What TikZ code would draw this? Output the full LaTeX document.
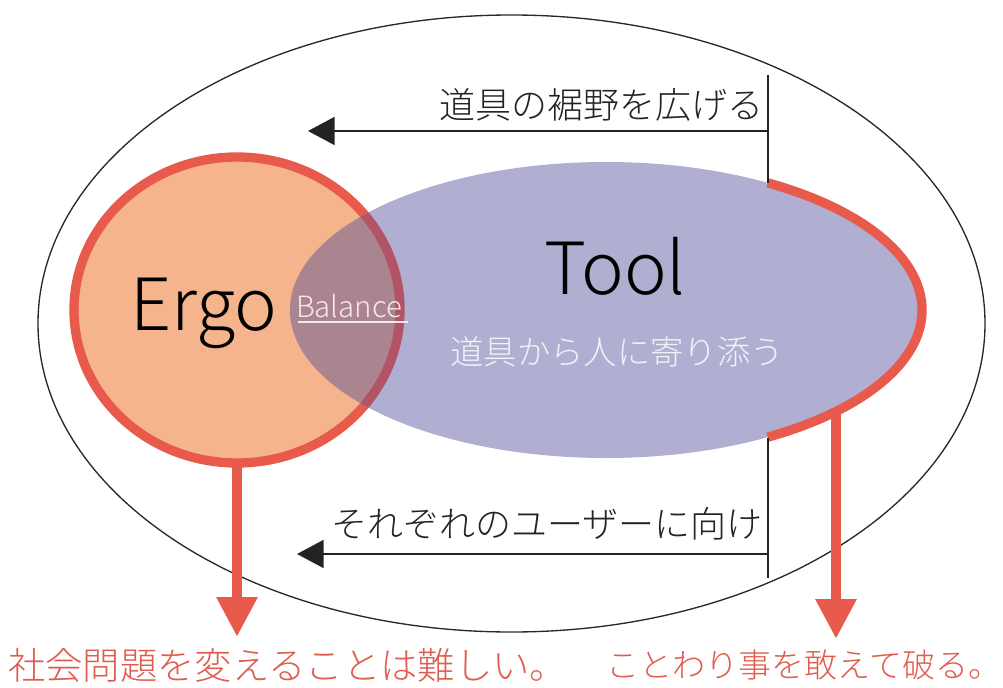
\documentclass[tikz,border=0pt]{standalone}
\usepackage{fontspec}
\setmainfont{Noto Sans CJK JP Light}
\usetikzlibrary{arrows.meta}
\definecolor{redline}{RGB}{232,90,76}
\definecolor{redtext}{RGB}{224,92,78}
\definecolor{ergofill}{RGB}{246,180,140}
\definecolor{toolfill}{RGB}{176,174,209}
\definecolor{overlapfill}{RGB}{170,132,143}
\definecolor{overlapred}{RGB}{178,84,102}
\definecolor{inktext}{RGB}{35,35,35}
\definecolor{outerline}{RGB}{40,40,40}
\tikzset{
  outerring/.style={draw=outerline, line width=1pt},
  blackline/.style={draw=inktext, line width=1.5pt},
  blackarrow/.style={draw=inktext, line width=1.5pt, -{Triangle[length=20pt,width=21pt]}},
  redarrow/.style={draw=redline, line width=7.5pt, -{Triangle[length=30pt,width=29pt]}},
  jptext/.style={text=inktext, inner sep=0pt, font=\fontsize{27pt}{31pt}\selectfont},
  redjp/.style={text=redtext, inner sep=0pt, anchor=west},
  bigword/.style={text=black, inner sep=0pt, anchor=base, font=\fontsize{54pt}{58pt}\selectfont},
}
\begin{document}
\begin{tikzpicture}[x=0.75pt,y=-0.75pt]
\useasboundingbox (0,0) rectangle (1003,688);
% outer ellipse
\draw[outerring] (511.5,323.5) ellipse [x radius=473.5, y radius=308.5];
% Ergo circle
\filldraw[fill=ergofill, draw=redline, line width=7pt] (237,310) ellipse [x radius=163, y radius=153];
% Tool ellipse
\fill[toolfill] (606,310) ellipse [x radius=316, y radius=148];
\begin{scope}
  \clip (606,310) ellipse [x radius=316, y radius=148];
  \fill[overlapfill] (237,310) ellipse [x radius=163, y radius=153];
  \draw[overlapred, line width=7pt] (237,310) ellipse [x radius=163, y radius=153];
\end{scope}
% red arc on right of Tool
\draw[redline, line width=7pt] ([shift={(-59.2:316 and 148)}]606,310) arc [start angle=-59.2, end angle=59.2, x radius=316, y radius=148];
% coordinates
\coordinate (topend) at (768,75);
\coordinate (topjoin) at (768,183);
\coordinate (toparrow) at (768,131);
\coordinate (toptip) at (308,131);
\coordinate (botjoin) at (768,438);
\coordinate (botend) at (768,578);
\coordinate (botarrow) at (768,554);
\coordinate (bottip) at (297,554);
\coordinate (ergobottom) at (237,460);
\coordinate (ergotip) at (237,637);
\coordinate (toolright) at (836,408);
\coordinate (tooltip) at (836,639);
% black lines
\draw[blackline] (topend) -- (topjoin);
\draw[blackline] (botjoin) -- (botend);
\draw[blackarrow] (toparrow) -- (toptip);
\draw[blackarrow] (botarrow) -- (bottip);
% red arrows
\draw[redarrow] (ergobottom) -- (ergotip);
\draw[redarrow] (toolright) -- (tooltip);
% texts
\node[jptext] (widen) at (601,105) {道具の裾野を広げる};
\node[jptext] (users) at (547,524) {それぞれのユーザーに向け};
\node[bigword] (ergo) at (204,330) {Ergo};
\node[bigword] (tool) at (615,294) {Tool};
\node[text={rgb,255:red,246;green,232;blue,236}, inner sep=0pt, anchor=base, font=\fontsize{22pt}{26pt}\selectfont] (balance) at (349,317) {Balance};
\draw[draw={rgb,255:red,246;green,232;blue,236}, line width=1.2pt] (298,322) -- (408,322);
\node[text={rgb,255:red,242;green,241;blue,248}, inner sep=0pt, font=\fontsize{25pt}{29pt}\selectfont] (near) at (617,352) {道具から人に寄り添う};
\node[redjp, font=\fontsize{28pt}{32pt}\selectfont] (social) at (8,665) {社会問題を変えることは難しい。};
\node[redjp, font=\fontsize{24.8pt}{29pt}\selectfont] (break) at (606,665) {ことわり事を敢えて破る。};
\end{tikzpicture}
\end{document}
